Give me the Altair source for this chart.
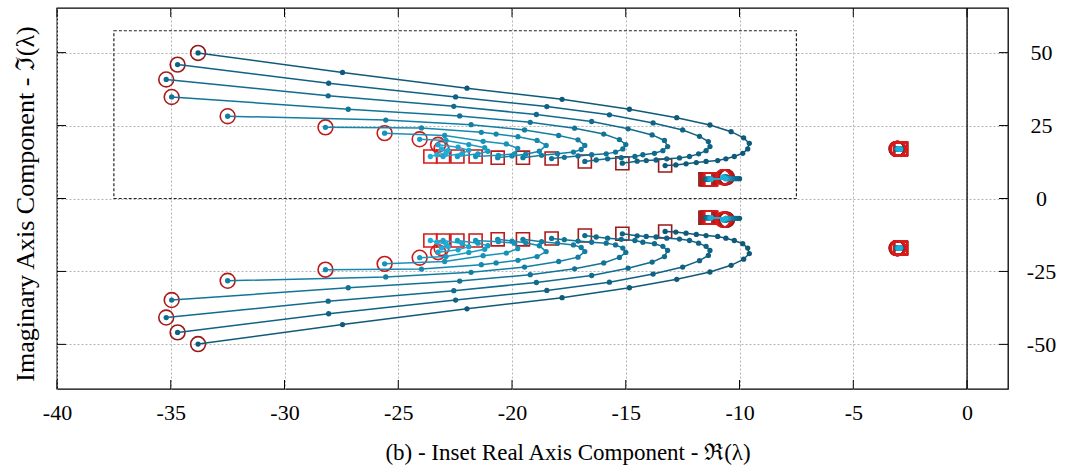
import altair as alt
import pandas as pd

# ---------------- data ----------------
# upper-half loci (lower half is the complex conjugate)
re_1 = [-33.8, -27.45, -21.98, -17.8, -14.84, -12.76, -11.3, -10.37, -9.82, -9.57, -9.64, -9.86, -10.23, -10.6, -10.96, -11.47, -11.9, -12.35, -12.8, -13.27]
im_1 = [49.9, 43.2, 37.8, 34.0, 30.6, 27.7, 25.2, 22.9, 20.8, 18.9, 17.0, 15.5, 14.4, 13.6, 13.0, 12.7, 12.3, 11.9, 11.5, 11.3]
re_2 = [-34.7, -28.06, -22.48, -18.47, -15.72, -13.8, -12.5, -11.76, -11.37, -11.3, -11.47, -11.8, -12.2, -12.64, -13.2, -13.67, -14.1, -14.5, -15.15]
im_2 = [45.9, 39.5, 34.8, 31.5, 28.7, 25.9, 23.5, 21.3, 19.5, 17.8, 16.4, 15.3, 14.4, 13.9, 13.6, 13.2, 13.0, 12.8, 12.1]
re_3 = [-35.2, -28.08, -22.56, -18.93, -16.5, -14.9, -13.84, -13.3, -13.16, -13.37, -13.74, -14.25, -14.6, -15.2, -15.8, -16.3, -16.8]
im_3 = [40.8, 35.2, 31.6, 28.8, 26.4, 23.9, 21.8, 19.9, 17.8, 16.4, 15.5, 15.0, 14.4, 14.0, 13.6, 13.2, 12.7]
re_4 = [-34.96, -27.2, -22.3, -19.2, -17.25, -15.97, -15.28, -15.0, -15.13, -15.45, -15.86, -16.5, -17.1, -17.7, -18.26]
im_4 = [34.8, 30.6, 28.3, 26.1, 24.1, 22.1, 20.2, 18.5, 17.0, 15.9, 15.3, 15.0, 14.6, 14.1, 13.7]
re_5 = [-32.5, -25.55, -21.8, -19.45, -17.95, -17.1, -16.8, -16.96, -17.3, -18.0, -18.7, -19.52]
im_5 = [28.2, 26.9, 25.3, 23.5, 21.6, 20.1, 18.2, 16.8, 15.9, 15.3, 14.8, 14.0]
re_6 = [-28.2, -23.98, -21.35, -20.7, -19.74, -18.9, -18.5, -18.8, -19.4, -20.0, -20.63]
im_6 = [24.4, 24.2, 22.7, 22.1, 21.2, 19.9, 18.2, 16.2, 15.2, 14.6, 14.0]
re_7 = [-25.6, -22.96, -21.27, -20.25, -19.75, -19.9, -20.6, -21.6]
im_7 = [22.4, 21.6, 19.6, 18.7, 17.2, 15.3, 14.8, 14.4]
re_8 = [-24.06, -22.9, -21.9, -21.2, -21.06, -21.5, -22.4]
im_8 = [20.3, 19.9, 18.5, 17.4, 16.2, 15.3, 14.4]
re_9 = [-23.25, -22.37, -21.9, -22.2, -23.03]
im_9 = [18.4, 17.6, 16.5, 15.4, 14.4]
re_10 = [-23.1, -22.8, -22.9, -23.3, -23.59]
im_10 = [17.0, 16.5, 15.6, 15.0, 14.4]

# nearly fixed pole pair near -11 +/- 7j : start, furthest point, end
near_start_re = [-10.55, -10.58, -10.6, -10.62, -10.64, -10.66, -10.68, -10.7, -10.72, -10.74]
near_mid_re = [-10.0, -10.1, -10.2, -10.3, -10.38, -10.45, -10.5, -10.55, -10.6, -10.62]
near_end_re = [-11.5, -11.45, -11.42, -11.38, -11.35, -11.32, -11.3, -11.28, -11.26, -11.24]
near_start_im = 7.3
near_mid_im = 6.8
near_end_im = 6.6

# fixed pole pair at -3 +/- 17j
fixed_start_re = [-3.1, -3.09, -3.08, -3.07, -3.06, -3.05, -3.04, -3.03, -3.02, -3.02]
fixed_end_re = [-2.9, -2.9, -2.91, -2.91, -2.92, -2.92, -2.93, -2.93, -2.94, -2.94]
fixed_im = 17.0

line_colors = ["#0f5a79", "#0f6283", "#106b8d", "#117497", "#137ea2", "#1588ad", "#1792b8", "#199cc3", "#1ba5ce", "#1dafd9"]
marker_colors = ["#951a1a", "#9c1a1a", "#a41a1a", "#ac1a1a", "#b41a1a", "#bc1a1a", "#c41a1a", "#cc1a1a", "#d41a1a", "#dc1a1a"]

x_ticks = [-40, -35, -30, -25, -20, -15, -10, -5, 0]
y_ticks = [-50, -25, 0, 25, 50]
x_domain = [-40, 1.8]
y_domain = [-65.3, 65.3]
inset_re = [-37.5, -7.5]
inset_im = [0.0, 57.5]

W, H = 951, 381

# ---------------- tables ----------------
traj_re = [re_1, re_2, re_3, re_4, re_5, re_6, re_7, re_8, re_9, re_10]
traj_im = [im_1, im_2, im_3, im_4, im_5, im_6, im_7, im_8, im_9, im_10]
rows, markers = [], []
for t in range(10):
    name = f"t{t + 1:02d}"
    paths = [
        ("main", traj_re[t], traj_im[t]),
        ("near", [near_start_re[t], near_mid_re[t], near_end_re[t]], [near_start_im, near_mid_im, near_end_im]),
        ("fixed", [fixed_start_re[t], fixed_end_re[t]], [fixed_im, fixed_im]),
    ]
    for kind, rr, ii in paths:
        for sign, half in ((1, "up"), (-1, "down")):
            grp = f"{name}-{kind}-{half}"
            for k, (r, i) in enumerate(zip(rr, ii)):
                rows.append({"traj": name, "grp": grp, "k": k, "re": r, "im": sign * i})
            markers.append({"mtraj": name, "end": "start", "re": rr[0], "im": sign * ii[0]})
            markers.append({"mtraj": name, "end": "end", "re": rr[-1], "im": sign * ii[-1]})
df = pd.DataFrame(rows)
df_mark = pd.DataFrame(markers)
df_box = pd.DataFrame([{"re": inset_re[0], "re2": inset_re[1], "im": inset_im[0], "im2": inset_im[1]}])
df_zero = pd.DataFrame([{"re": 0}])
df_xt = pd.DataFrame({"re": x_ticks})
df_yt = pd.DataFrame({"im": y_ticks})

FONT = "Liberation Serif"
names = [f"t{t + 1:02d}" for t in range(10)]
line_scale = alt.Scale(domain=names, range=line_colors)
mark_scale = alt.Scale(domain=names, range=marker_colors)

xs = alt.Scale(domain=x_domain, nice=False, zero=False)
ys = alt.Scale(domain=y_domain, nice=False, zero=False)
x_axis = alt.Axis(values=x_ticks, title="(b) - Inset Real Axis Component - ℜ(λ)", grid=True,
                  gridDash=[2, 2], gridColor="#b4b4b4", gridWidth=1, ticks=False, tickSize=0,
                  domain=False, labelFont=FONT, labelFontSize=22, labelColor="black",
                  labelExpr="'' + datum.value",
                  labelPadding=13, titleFont=FONT, titleFontSize=23, titleFontWeight="normal",
                  titleColor="black", titlePadding=18, titleX=W / 2 + 35, labelFlush=False)
X = alt.X("re:Q", scale=xs, axis=x_axis)
y_left = alt.Axis(orient="left", values=y_ticks, labels=False, ticks=False, tickSize=0, domain=False,
                  grid=True, gridDash=[2, 2], gridColor="#b4b4b4", gridWidth=1,
                  title="Imaginary Axis Component - ℑ(λ)", titleFont=FONT, titleFontSize=26,
                  titleFontWeight="normal", titleColor="black", titlePadding=19, titleY=H / 2 + 5)
y_right = alt.Axis(orient="right", values=y_ticks, ticks=False, tickSize=0, domain=False, grid=False,
                   labelFont=FONT, labelFontSize=22, labelColor="black", labelAlign="center",
                   labelExpr="'' + datum.value", labelPadding=33, title=None)

box = alt.Chart(df_box).mark_rect(fill=None, stroke="#222222", strokeWidth=1.2, strokeDash=[3, 2]).encode(
    x=X, x2="re2:Q", y=alt.Y("im:Q", scale=ys, axis=y_left), y2="im2:Q")

zero = alt.Chart(df_zero).mark_rule(color="black", strokeWidth=1.3).encode(
    x=X, y=alt.value(0), y2=alt.value(H))

ends = alt.Chart(df_mark).mark_point(filled=False, opacity=1, strokeWidth=1.6).encode(
    x=X, y=alt.Y("im:Q", scale=ys, axis=None),
    shape=alt.Shape("end:N", scale=alt.Scale(domain=["start", "end"], range=["circle", "square"]), legend=None),
    size=alt.Size("end:N", scale=alt.Scale(domain=["start", "end"], range=[220, 170]), legend=None),
    color=alt.Color("mtraj:N", scale=mark_scale, legend=None))

lines = alt.Chart(df).mark_line(strokeWidth=1.5).encode(
    x=X, y=alt.Y("im:Q", scale=ys, axis=None), detail="grp:N", order="k:Q",
    color=alt.Color("traj:N", scale=line_scale, legend=None))

dots = alt.Chart(df).mark_circle(size=28, opacity=1).encode(
    x=X, y=alt.Y("im:Q", scale=ys, axis=None),
    color=alt.Color("traj:N", scale=line_scale, legend=None))

tick_len = 9
xt_bottom = alt.Chart(df_xt).mark_rule(color="black", strokeWidth=1).encode(
    x=X, y=alt.value(H), y2=alt.value(H - tick_len))
xt_top = alt.Chart(df_xt).mark_rule(color="black", strokeWidth=1).encode(
    x=X, y=alt.value(0), y2=alt.value(tick_len))
yt_left = alt.Chart(df_yt).mark_rule(color="black", strokeWidth=1).encode(
    y=alt.Y("im:Q", scale=ys, axis=None), x=alt.value(0), x2=alt.value(tick_len))
yt_right = alt.Chart(df_yt).mark_rule(color="black", strokeWidth=1).encode(
    y=alt.Y("im:Q", scale=ys, axis=y_right), x=alt.value(W), x2=alt.value(W - tick_len))

chart = alt.layer(box, zero, ends, lines, dots, xt_bottom, xt_top, yt_left, yt_right).resolve_axis(
    y="independent").resolve_scale(color="independent").properties(
    width=W, height=H,
    autosize=alt.AutoSizeParams(type="none"),
    padding={"left": 57, "top": 8, "right": 81, "bottom": 85},
    background="white",
).configure_view(stroke="black", strokeWidth=1.3)

chart.save("out.html", embed_options={"renderer": "svg", "actions": False})
